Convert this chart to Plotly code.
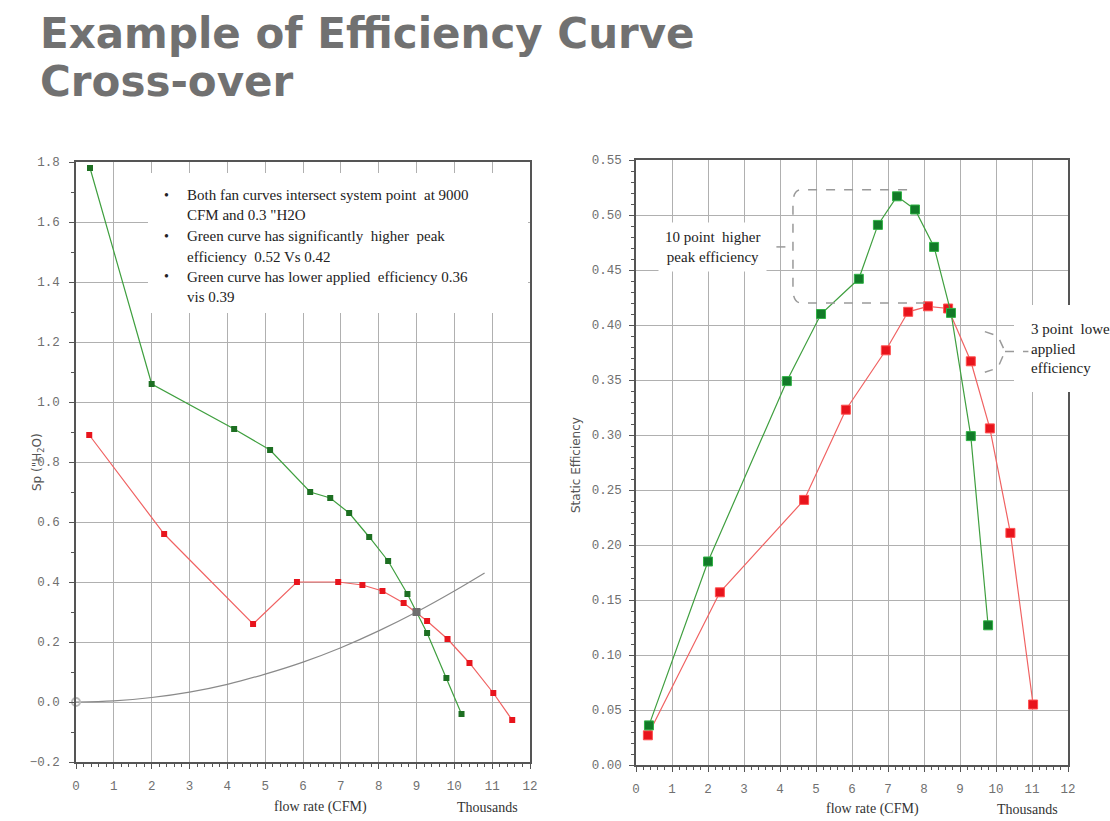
import plotly.graph_objects as go

# ---------------- data ----------------
sp_green_x = [0.37, 2.0, 4.18, 5.13, 6.19, 6.72, 7.22, 7.75, 8.25, 8.76, 9.28, 9.79, 10.19]
sp_green_y = [1.78, 1.06, 0.91, 0.84, 0.70, 0.68, 0.63, 0.55, 0.47, 0.36, 0.23, 0.08, -0.04]
sp_red_x = [0.35, 2.33, 4.68, 5.84, 6.93, 7.57, 8.10, 8.66, 9.28, 9.82, 10.40, 11.03, 11.53]
sp_red_y = [0.89, 0.56, 0.26, 0.40, 0.40, 0.39, 0.37, 0.33, 0.27, 0.21, 0.13, 0.03, -0.06]
sys_x = [0, 1, 2, 3, 4, 5, 6, 7, 8, 9, 10, 10.8]
sys_y = [0.0, 0.004, 0.015, 0.033, 0.059, 0.093, 0.133, 0.181, 0.237, 0.30, 0.37, 0.43]
op_x = [9.0]
op_y = [0.30]
origin_x = [0.0]
origin_y = [0.0]

eff_green_x = [0.36, 2.0, 4.19, 5.14, 6.19, 6.72, 7.25, 7.75, 8.28, 8.75, 9.3, 9.78]
eff_green_y = [0.036, 0.185, 0.349, 0.41, 0.442, 0.491, 0.517, 0.505, 0.471, 0.411, 0.299, 0.127]
eff_red_x = [0.33, 2.33, 4.67, 5.83, 6.94, 7.56, 8.11, 8.67, 9.3, 9.83, 10.4, 11.03]
eff_red_y = [0.027, 0.157, 0.241, 0.323, 0.377, 0.412, 0.417, 0.415, 0.367, 0.306, 0.211, 0.055]

x_ticks = list(range(0, 13))
sp_ticks = [-0.2, 0.0, 0.2, 0.4, 0.6, 0.8, 1.0, 1.2, 1.4, 1.6, 1.8]
eff_ticks = [0.00, 0.05, 0.10, 0.15, 0.20, 0.25, 0.30, 0.35, 0.40, 0.45, 0.50, 0.55]

title_lines = ["Example of Efficiency Curve", "Cross-over"]
bullet_lines = [
    ("•", "Both fan curves intersect system point  at 9000"),
    ("", "CFM and 0.3 \"H2O"),
    ("•", "Green curve has significantly  higher  peak"),
    ("", "efficiency  0.52 Vs 0.42"),
    ("•", "Green curve has lower applied  efficiency 0.36"),
    ("", "vis 0.39"),
]

W, H = 1110, 821
def px(x):
    return x / W
def py(y):
    return (H - y) / H

GREEN_LINE = "#3f9f3f"
GREEN_MK = "#1d6f22"
RED_LINE = "#f06262"
RED_MK = "#e8141c"
GRID = "#b0b0b0"
AXC = "#555555"
serif = "Liberation Serif"

fig = go.Figure()

# left chart
fig.add_trace(go.Scatter(x=sys_x, y=sys_y, mode="lines", line=dict(color="#8a8a8a", width=1.2, shape="spline"),
                         xaxis="x", yaxis="y", showlegend=False, hoverinfo="skip"))
fig.add_trace(go.Scatter(x=sp_red_x, y=sp_red_y, mode="lines+markers",
                         line=dict(color=RED_LINE, width=1.2),
                         marker=dict(symbol="square", size=6, color=RED_MK),
                         xaxis="x", yaxis="y", showlegend=False))
fig.add_trace(go.Scatter(x=sp_green_x, y=sp_green_y, mode="lines+markers",
                         line=dict(color=GREEN_LINE, width=1.2),
                         marker=dict(symbol="square", size=6, color=GREEN_MK),
                         xaxis="x", yaxis="y", showlegend=False))
fig.add_trace(go.Scatter(x=op_x, y=op_y, mode="markers",
                         marker=dict(symbol="square", size=8, color="#6e6e6e"),
                         xaxis="x", yaxis="y", showlegend=False))
fig.add_trace(go.Scatter(x=origin_x, y=origin_y, mode="markers",
                         marker=dict(symbol="circle-open", size=8, color="#bbbbbb", line=dict(width=2)),
                         xaxis="x", yaxis="y", showlegend=False, cliponaxis=False))

# right chart
fig.add_trace(go.Scatter(x=eff_red_x, y=eff_red_y, mode="lines+markers",
                         line=dict(color=RED_LINE, width=1.2),
                         marker=dict(symbol="square", size=9, color=RED_MK, line=dict(color="#ff5050", width=1)),
                         xaxis="x2", yaxis="y2", showlegend=False))
fig.add_trace(go.Scatter(x=eff_green_x, y=eff_green_y, mode="lines+markers",
                         line=dict(color=GREEN_LINE, width=1.2),
                         marker=dict(symbol="square", size=9, color="#127a28", line=dict(color="#2fb245", width=1)),
                         xaxis="x2", yaxis="y2", showlegend=False))

tickfont = dict(family="Liberation Mono", size=12.5, color="#707070")
axis_common = dict(showline=True, linecolor=AXC, linewidth=1.5, mirror=True, automargin=False,
                   showgrid=True, gridcolor=GRID, gridwidth=1, zeroline=False,
                   ticks="outside", ticklen=5, tickcolor=AXC, tickfont=tickfont)

fig.update_layout(
    width=W, height=H, margin=dict(l=0, r=0, t=0, b=0, autoexpand=False),
    paper_bgcolor="white", plot_bgcolor="white",
    xaxis=dict(domain=[px(76), px(530)], range=[0, 12], tickvals=x_ticks, anchor="y",
               minor=dict(dtick=0.2, ticks="outside", ticklen=3, tickcolor=AXC, showgrid=False),
               ticklabelstandoff=6, **axis_common),
    yaxis=dict(domain=[py(762), py(162)], range=[-0.2, 1.8], tickvals=sp_ticks, tickformat=".1f", anchor="x",
               minor=dict(dtick=0.1, ticks="outside", ticklen=3, tickcolor=AXC, showgrid=False),
               ticklabelstandoff=7, **axis_common),
    xaxis2=dict(domain=[px(636), px(1068)], range=[0, 12], tickvals=x_ticks, anchor="y2",
                minor=dict(dtick=0.2, ticks="outside", ticklen=3, tickcolor=AXC, showgrid=False),
                ticklabelstandoff=6, **axis_common),
    yaxis2=dict(domain=[py(765), py(160)], range=[0, 0.55], tickvals=eff_ticks, tickformat=".2f", anchor="x2",
                minor=dict(dtick=0.01, ticks="outside", ticklen=3, tickcolor=AXC, showgrid=False),
                ticklabelstandoff=5, **axis_common),
)

# white boxes behind callout texts (cover gridlines)
fig.add_shape(type="rect", xref="paper", yref="paper", layer="above",
              x0=px(148), x1=px(528), y0=py(313), y1=py(173), fillcolor="white", line=dict(width=0))
fig.add_shape(type="rect", xref="paper", yref="paper", layer="above",
              x0=px(1014), x1=px(1112), y0=py(392), y1=py(305), fillcolor="white", line=dict(width=0))

ann = []
# title
for t, yy in zip(title_lines, [7, 55]):
    ann.append(dict(text=t, x=px(38), y=py(yy), xref="paper", yref="paper", xanchor="left", yanchor="top",
                    showarrow=False, font=dict(family="DejaVu Sans", size=42, color="#717171", weight=700)))

line_y = [195, 215, 236, 257, 277, 297]
for (b, t), yy in zip(bullet_lines, line_y):
    if b:
        ann.append(dict(text=b, x=px(166), y=py(yy), xref="paper", yref="paper", xanchor="center", yanchor="middle",
                        showarrow=False, font=dict(family=serif, size=14, color="#222")))
    ann.append(dict(text=t, x=px(185), y=py(yy), xref="paper", yref="paper", xanchor="left", yanchor="middle",
                    showarrow=False, font=dict(family=serif, size=15, color="#222")))

# right chart callouts
ann.append(dict(text="10 point  higher<br>peak efficiency", x=px(712), y=py(247), xref="paper", yref="paper",
                xanchor="center", yanchor="middle", showarrow=False, bgcolor="white", borderpad=6, align="center",
                font=dict(family=serif, size=15, color="#222")))
ann.append(dict(text="3 point  lower<br>applied<br>efficiency", x=px(1029), y=py(348), xref="paper", yref="paper",
                xanchor="left", yanchor="middle", showarrow=False, align="left",
                font=dict(family=serif, size=15, color="#222")))

# axis titles
ann.append(dict(text="Sp (\"H<sub>2</sub>O)", x=px(28), y=py(462), xref="paper", yref="paper", textangle=-90,
                showarrow=False, font=dict(family="DejaVu Sans", size=12, color="#555")))
ann.append(dict(text="Static Efficiency", x=px(576), y=py(465), xref="paper", yref="paper", textangle=-90,
                showarrow=False, font=dict(family="DejaVu Sans", size=12, color="#555")))
for cx, tx, yy in [(320, "flow rate (CFM)", 807), (487, "Thousands", 807), (872, "flow rate (CFM)", 809), (1027, "Thousands", 809)]:
    ann.append(dict(text=tx, x=px(cx), y=py(yy), xref="paper", yref="paper", showarrow=False,
                    xanchor="center", yanchor="middle", font=dict(family=serif, size=14, color="#333")))
fig.update_layout(annotations=ann)

# dashed callout brackets
dash = dict(color="#9a9a9a", width=1.5, dash="dash")
fig.add_shape(type="path", xref="x2", yref="y2", line=dash,
              path="M 7.53,0.523 L 4.6,0.523 Q 4.36,0.523 4.36,0.51 L 4.36,0.433 Q 4.36,0.42 4.6,0.42 L 8.17,0.42")
fig.add_shape(type="line", xref="x2", yref="y2", line=dash, x0=3.9, x1=4.15, y0=0.471, y1=0.471)
fig.add_shape(type="path", xref="x2", yref="y2", line=dash,
              path="M 9.69,0.394 L 10.05,0.390 L 10.25,0.376 L 10.05,0.361 L 9.69,0.357")
fig.add_shape(type="line", xref="x2", yref="y2", line=dash, x0=10.25, x1=10.9, y0=0.376, y1=0.376)

fig.write_html("out.html", config={"displayModeBar": False},
               post_script="document.body.style.margin='0px'; document.body.style.overflow='hidden';")
